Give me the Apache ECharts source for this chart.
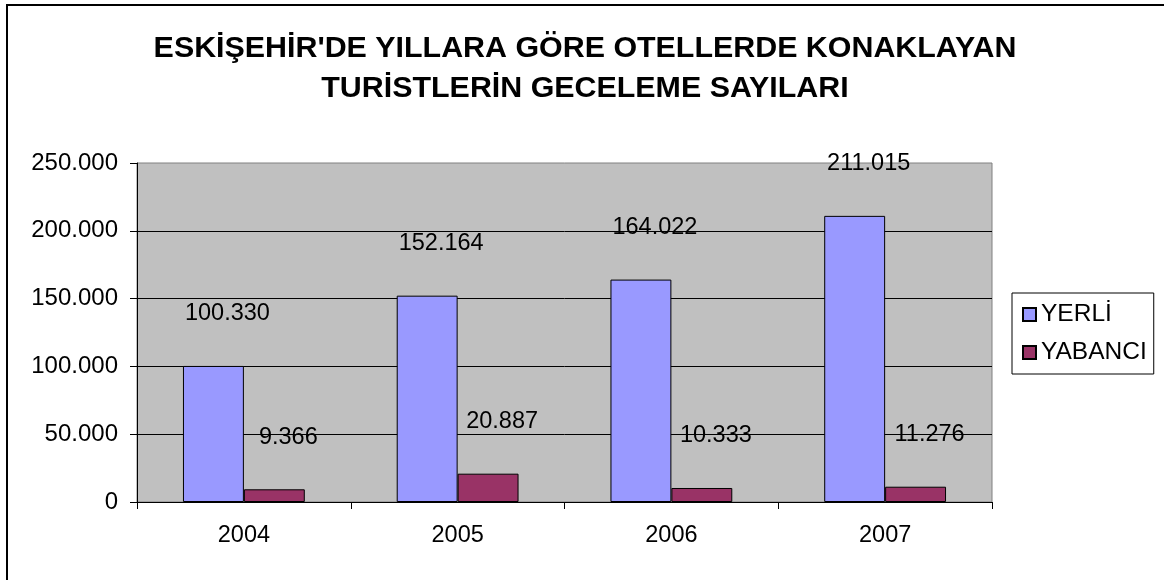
<!DOCTYPE html>
<html>
<head>
<meta charset="utf-8">
<script src="https://cdn.jsdelivr.net/npm/echarts@6/dist/echarts.min.js"></script>
<style>html,body{margin:0;padding:0;background:#fff}#c{width:1164px;height:580px}</style>
</head>
<body>
<div id="c"></div>
<script>
const titleLines = ["ESKİŞEHİR'DE YILLARA GÖRE OTELLERDE KONAKLAYAN", "TURİSTLERİN GECELEME SAYILARI"];
const years = ["2004", "2005", "2006", "2007"];
const yerli = [100330, 152164, 164022, 211015];
const yabanci = [9366, 20887, 10333, 11276];
const seriesNames = ["YERLİ", "YABANCI"];

function fmt(v) {
  return String(Math.round(v)).replace(/\B(?=(\d{3})+(?!\d))/g, '.');
}
const FONT = '"Liberation Sans", Arial, sans-serif';
const chart = echarts.init(document.getElementById('c'), null, {renderer: 'canvas'});
const labelCfg = {
  show: true,
  position: 'top',
  distance: 40,
  offset: [14, 0],
  color: '#000',
  fontFamily: FONT,
  fontSize: 23.5,
  formatter: p => fmt(p.value)
};
chart.setOption({
  animation: false,
  backgroundColor: '#fff',
  graphic: [{
    type: 'rect',
    shape: {x: 7, y: 5, width: 1200, height: 620},
    style: {fill: 'none', stroke: '#000', lineWidth: 2},
    silent: true
  }],
  title: {
    text: titleLines.join('\n'),
    left: 580,
    top: 24,
    textAlign: 'center',
    textStyle: {fontFamily: FONT, fontWeight: 'bold', fontSize: 30.4, lineHeight: 40, color: '#000'}
  },
  legend: {
    orient: 'vertical',
    left: 1012,
    top: 293,
    padding: [9, 7, 9, 10],
    itemGap: 13,
    itemWidth: 13,
    itemHeight: 13,
    icon: 'rect',
    backgroundColor: '#fff',
    borderColor: '#000',
    borderWidth: 1,
    textStyle: {fontFamily: FONT, fontSize: 24.5, color: '#000'},
    data: seriesNames
  },
  grid: {
    left: 137, right: 172, top: 163, bottom: 78,
    show: true,
    backgroundColor: '#C0C0C0',
    borderColor: '#808080',
    borderWidth: 1,
    containLabel: false
  },
  xAxis: {
    type: 'category',
    data: years,
    axisLine: {lineStyle: {color: '#000', width: 1}},
    axisTick: {show: true, length: 7, lineStyle: {color: '#000'}},
    axisLabel: {margin: 22, color: '#000', fontFamily: FONT, fontSize: 23.5}
  },
  yAxis: {
    type: 'value',
    min: 0, max: 250000, interval: 50000,
    axisLine: {show: true, lineStyle: {color: '#000', width: 1}},
    axisTick: {show: true, length: 7, lineStyle: {color: '#000'}},
    axisLabel: {margin: 19, color: '#000', fontFamily: FONT, fontSize: 24, formatter: v => fmt(v)},
    splitLine: {show: true, showMaxLine: false, lineStyle: {color: '#000', width: 1}}
  },
  series: [
    {
      name: seriesNames[0], type: 'bar', data: yerli,
      barGap: '0%', barCategoryGap: '43%',
      itemStyle: {color: '#9999FF', borderColor: '#000', borderWidth: 1},
      label: labelCfg
    },
    {
      name: seriesNames[1], type: 'bar', data: yabanci,
      barGap: '0%', barCategoryGap: '43%',
      itemStyle: {color: '#993366', borderColor: '#000', borderWidth: 1},
      label: labelCfg
    }
  ]
});
</script>
</body>
</html>
